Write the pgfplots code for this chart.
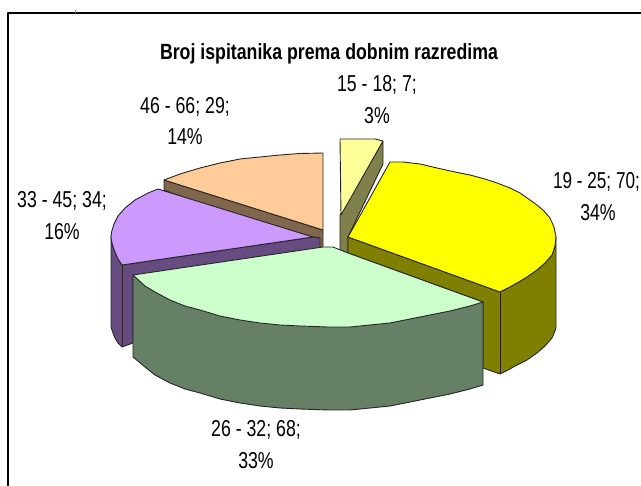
\documentclass[border=0pt]{standalone}
\usepackage{pgfplots}
\usepackage{fontspec}
\setmainfont{Liberation Sans}
\pgfplotsset{compat=1.18}
\definecolor{peach}{HTML}{FFCC99}
\definecolor{peachd}{HTML}{7F664C}
\definecolor{lilac}{HTML}{CC99FF}
\definecolor{lilacd}{HTML}{664C80}
\definecolor{mint}{HTML}{CCFFCC}
\definecolor{mintd}{HTML}{668066}
\definecolor{ylw}{HTML}{FFFF00}
\definecolor{ylwd}{HTML}{808000}
\definecolor{pale}{HTML}{FFFF99}
\definecolor{paled}{HTML}{80804C}
\newcommand{\lab}[1]{\scalebox{0.77}[1]{\fontsize{23}{23}\selectfont #1}}
\begin{document}
\begin{tikzpicture}
\path[use as bounding box] (0,0) rectangle (641pt,486pt);
\clip (0,0) rectangle (641pt,486pt);
\begin{axis}[
  at={(0,0)}, anchor=south west,
  scale only axis, width=641pt, height=486pt,
  xmin=0, xmax=641, ymin=0, ymax=486, y dir=reverse,
  hide axis, clip=false,
  every axis plot/.append style={draw=black!85, line width=0.9pt, line join=round, mark=none},
]
% frame
\addplot[black, line width=1.6pt] coordinates {(8,486) (8,13) (641,13)};
\addplot[gray, line width=0.7pt] coordinates {(75,10) (75,13)};
% 46-66 peach side and top
\addplot[fill=peachd] coordinates {(164,180) (323,230) (323,250) (164,190) (164,180)};
\addplot[fill=peach] coordinates {(323,230) (323,153) (300,153.5) (280,155) (260,157) (240,159) (220,163) (200,168) (180,174) (164,180) (323,230)};
% 33-45 lilac sides and top
\addplot[fill=lilacd] coordinates {(111,235) (111,327) (113,333) (115,338) (118,343) (122,347) (133,343) (133,276) (320,248) (320,238) (313,237) (122,265) (118,259) (115,252) (112.5,245) (111,238) (111,235)};
\addplot[fill=lilac] coordinates {(313,237) (158,189) (148,193) (135,200) (125,208) (118,216) (114,224) (111.5,232) (111,238) (112.5,245) (115,252) (118,259) (122,265) (313,237)};
\addplot[black!85, line width=0.9pt] coordinates {(122,265) (122,347)};
% 15-18 pale yellow side and top
\addplot[fill=paled] coordinates {(383,141) (383,164) (348,237) (348,253) (340,250) (340,215) (383,141)};
\addplot[fill=pale] coordinates {(340,139) (375,139) (383,141) (341,215) (340,139)};
% 19-25 yellow sides and top
\addplot[fill=ylwd] coordinates {(348,237) (348,253) (483,302) (483,368) (500,374) (508,370) (517,365) (527,360) (537,353) (545,346) (552,338) (555,331) (556,327) (556,237) (555,246) (552,255) (545,263) (537,270) (527,277) (517,283) (508,288) (500,292) (348,237)};
\addplot[fill=ylw] coordinates {(390,162) (403,162) (420,164) (437,168) (455,172) (470,175) (485,179) (497,183) (510,188) (520,193) (530,200) (537,205) (544,211) (550,218) (554,227) (556,237) (555,246) (552,255) (545,263) (537,270) (527,277) (517,283) (508,288) (500,292) (348,237) (390,162)};
\addplot[black!85, line width=0.9pt] coordinates {(500,292) (500,374)};
% 26-32 green side and top
\addplot[fill=mintd] coordinates {(133,275) (133,357) (145,367) (155,375) (170,383) (185,389) (200,393) (220,399) (240,403) (260,406) (280,408) (300,409) (328,410) (350,410) (370,408) (390,406) (410,402) (430,398) (450,394) (470,389) (483,385) (483,302) (133,275)};
\addplot[fill=mint] coordinates {(133,275) (323,247) (333,247) (348,253) (483,302) (470,306) (450,311) (430,315) (410,319) (390,323) (370,325) (350,327) (328,327) (300,326) (280,325) (260,323) (240,320) (220,316) (200,310) (185,306) (170,300) (155,292) (145,286) (133,275)};
% labels
\node[font=\bfseries] at (axis cs:329,54) {\scalebox{0.806}[1]{\fontsize{22}{22}\selectfont Broj ispitanika prema dobnim razredima}};
\node at (axis cs:377,85) {\lab{15 - 18; 7;}};
\node at (axis cs:377,116) {\lab{3\%}};
\node at (axis cs:185,107) {\lab{46 - 66; 29;}};
\node at (axis cs:185,137) {\lab{14\%}};
\node at (axis cs:62,201) {\lab{33 - 45; 34;}};
\node at (axis cs:62,232) {\lab{16\%}};
\node at (axis cs:596.5,182) {\scalebox{0.745}[1]{\fontsize{23}{23}\selectfont 19 - 25; 70;}};
\node at (axis cs:598,213) {\lab{34\%}};
\node at (axis cs:256,430) {\lab{26 - 32; 68;}};
\node at (axis cs:256,461) {\lab{33\%}};
\end{axis}
\end{tikzpicture}
\end{document}
